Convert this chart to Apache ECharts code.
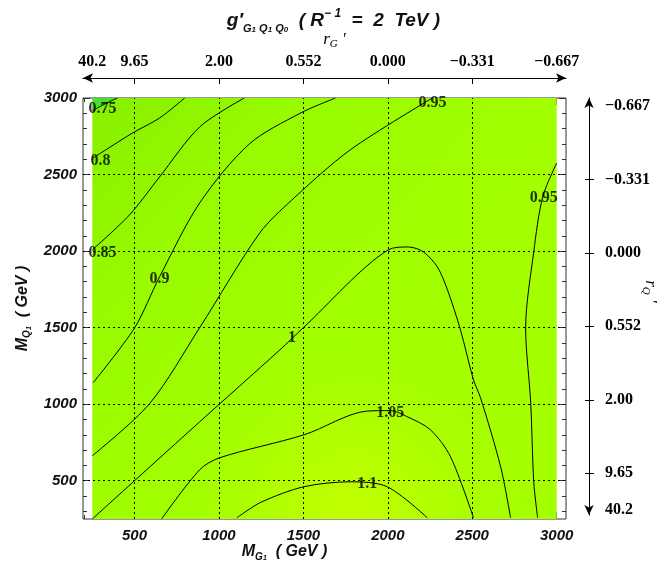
<!DOCTYPE html>
<html>
<head>
<meta charset="utf-8">
<script src="https://cdn.jsdelivr.net/npm/echarts@6.0.0/dist/echarts.min.js"></script>
<style>
  html, body { margin: 0; padding: 0; background: #ffffff; }
  #chart { width: 667px; height: 569px; }
</style>
</head>
<body>
<div id="chart"></div>
<script>
// Axis ticks and labels
const xMajor = [500, 1000, 1500, 2000, 2500, 3000];
const yMajor = [500, 1000, 1500, 2000, 2500, 3000];
const gridValues = [500, 1000, 1500, 2000, 2500];
const rTickPos = [250, 500, 1000, 1500, 2000, 2500, 3000];
const rTickLabels = ['40.2', '9.65', '2.00', '0.552', '0.000', '\u22120.331', '\u22120.667'];
const arrowTicks = [500, 1000, 1500, 2000, 2500];

// Extent of the computed field (M_G1, M_Q1 in GeV)
const fieldBounds = [[250, 3000, 3000, 250]];

// Contour lines of g'(G1 Q1 Q0), points as [M_G1, M_Q1]
const contour075 = [[250, 2915], [320, 2958], [400, 3000]];
const contour080 = [[250, 2605], [488, 2771], [648, 2869], [797, 3000]];
const contour085 = [[250, 2008], [470, 2236], [648, 2484], [886, 2811], [1150, 3000]];
const contour090 = [[255, 1140], [500, 1498], [648, 1831], [886, 2315], [1180, 2700], [1480, 2900], [1690, 3000]];
const contour095a = [[250, 663], [589, 1003], [886, 1500], [1242, 2119], [1432, 2334], [1777, 2661], [2264, 3000]];
const contour095b = [[2887, 258], [2864, 493], [2846, 1009], [2816, 1498], [2864, 1995], [2917, 2354], [3000, 2575]];
const contour100 = [[250, 250], [500, 500], [886, 885], [1361, 1355], [1498, 1498], [2002, 2008], [2121, 2027],
                    [2210, 1995], [2293, 1897], [2353, 1747], [2430, 1486], [2507, 1159], [2549, 1042], [2668, 591], [2727, 258]];
const contour105 = [[660, 250], [886, 572], [1004, 650], [1504, 800], [1878, 955], [2014, 958], [2115, 918],
                    [2252, 833], [2371, 657], [2507, 258]];
const contour110 = [[1106, 258], [1250, 360], [1504, 461], [1777, 493], [1996, 461], [2234, 258]];

const contours = [contour075, contour080, contour085, contour090, contour095a, contour095b, contour100, contour105, contour110];

// Contour level labels: [M_G1, M_Q1, level]
const contourLabels = [
  [310, 2928, '0.75'],
  [298, 2589, '0.8'],
  [310, 1988, '0.85'],
  [648, 1819, '0.9'],
  [2264, 2967, '0.95'],
  [2923, 2347, '0.95'],
  [1432, 1433, '1'],
  [2014, 944, '1.05'],
  [1878, 480, '1.1']
];

const minorX = [];
for (let v = 200; v <= 3000; v += 100) if (v % 500 !== 0) minorX.push(v);
const minorY = [];
for (let v = 300; v <= 3000; v += 100) if (v % 500 !== 0) minorY.push(v);

const X_MIN = 195, X_MAX = 3055, Y_MIN = 250, Y_MAX = 3000;
const FRAME = '#333333';
const sansBI = { fontFamily: 'Liberation Sans', fontWeight: 'bold', fontStyle: 'italic', color: '#111111' };
const serifB = { fontFamily: 'Liberation Serif', fontWeight: 'bold', color: '#000000' };
const plain = (v) => String(v);

function frameX(pos, values, len) {
  return {
    gridIndex: 0, type: 'value', min: X_MIN, max: X_MAX, position: pos,
    axisLine: { show: false }, splitLine: { show: false }, axisLabel: { show: false },
    axisTick: { show: true, inside: true, length: len, customValues: values, lineStyle: { color: FRAME } }
  };
}
function frameY(pos, values, len) {
  return {
    gridIndex: 0, type: 'value', min: Y_MIN, max: Y_MAX, position: pos,
    axisLine: { show: false }, splitLine: { show: false }, axisLabel: { show: false },
    axisTick: { show: true, inside: true, length: len, customValues: values, lineStyle: { color: FRAME } }
  };
}

const chart = echarts.init(document.getElementById('chart'), null, { renderer: 'canvas' });

const contourSeries = contours.map((pts) => ({
  type: 'line', xAxisIndex: 0, yAxisIndex: 0, data: pts, showSymbol: false, symbol: 'none',
  smooth: 0.3, silent: true, z: 5, clip: true,
  lineStyle: { color: '#000000', width: 1 }
}));

const option = {
  animation: false,
  backgroundColor: '#ffffff',
  title: {
    left: 'center', top: 3,
    text: '{b|g}{b|\u2032}{s|G}{ss|1}{s| Q}{ss|1}{s| Q}{ss|0}{b|  ( R}{sup|\u2212 1}{b|  =  2  TeV )}',
    textStyle: {
      rich: {
        b: Object.assign({ fontSize: 19, lineHeight: 26 }, sansBI),
        s: Object.assign({ fontSize: 11, lineHeight: 13, verticalAlign: 'bottom' }, sansBI),
        ss: Object.assign({ fontSize: 8, lineHeight: 10, verticalAlign: 'bottom' }, sansBI),
        sup: Object.assign({ fontSize: 12, lineHeight: 13, verticalAlign: 'top' }, sansBI)
      }
    }
  },
  grid: [
    { left: 83, right: 101, top: 98, bottom: 50, show: true, borderColor: FRAME, borderWidth: 1, backgroundColor: 'transparent' },
    { left: 589, right: 77, top: 98, bottom: 54, show: false }
  ],
  xAxis: [
    {
      gridIndex: 0, type: 'value', min: X_MIN, max: X_MAX, position: 'bottom',
      axisLine: { show: false }, splitLine: { show: false },
      axisTick: { show: true, inside: true, length: 7, customValues: xMajor, lineStyle: { color: FRAME } },
      axisLabel: Object.assign({ customValues: xMajor, fontSize: 15, margin: 9, formatter: plain }, sansBI),
      name: '{m|M}{s|G}{ss|1}{m|  ( GeV )}', nameLocation: 'middle', nameGap: 23, nameMoveOverlap: false,
      nameTextStyle: {
        padding: [0, 80, 0, 0],
        rich: {
          m: Object.assign({ fontSize: 16, lineHeight: 20 }, sansBI),
          s: Object.assign({ fontSize: 10, lineHeight: 11, verticalAlign: 'bottom' }, sansBI),
          ss: Object.assign({ fontSize: 7, lineHeight: 8, verticalAlign: 'bottom' }, sansBI)
        }
      }
    },
    frameX('bottom', minorX, 4),
    frameX('top', xMajor, 7),
    frameX('top', minorX, 4),
    {
      gridIndex: 0, type: 'value', min: X_MIN, max: X_MAX, position: 'top', offset: 20,
      axisLine: { show: true, symbol: ['arrow', 'arrow'], symbolSize: [7, 10], lineStyle: { color: '#000', width: 1 } },
      splitLine: { show: false },
      axisTick: { show: true, inside: true, length: 6, customValues: arrowTicks, lineStyle: { color: '#000' } },
      axisLabel: Object.assign({
        customValues: rTickPos, fontSize: 16, margin: 8,
        formatter: (v) => rTickLabels[rTickPos.indexOf(v)]
      }, serifB),
      name: '{r|r}{s|G}{r| \u2032}', nameLocation: 'middle', nameGap: 28, nameMoveOverlap: false,
      nameTextStyle: {
        padding: [0, 0, 0, 20],
        rich: {
          r: { fontFamily: 'Liberation Serif', fontStyle: 'italic', fontSize: 17, lineHeight: 20, color: '#000' },
          s: { fontFamily: 'Liberation Serif', fontStyle: 'italic', fontSize: 11, lineHeight: 12, verticalAlign: 'bottom', color: '#000' }
        }
      }
    },
    { gridIndex: 1, type: 'value', show: false, min: 0, max: 1 }
  ],
  yAxis: [
    {
      gridIndex: 0, type: 'value', min: Y_MIN, max: Y_MAX, position: 'left',
      axisLine: { show: false }, splitLine: { show: false },
      axisTick: { show: true, inside: true, length: 7, customValues: yMajor, lineStyle: { color: FRAME } },
      axisLabel: Object.assign({ customValues: yMajor, fontSize: 15, margin: 6, formatter: plain }, sansBI),
      name: '{m|M}{s|Q}{ss|1}{m|  ( GeV )}', nameLocation: 'middle', nameGap: 49,
      nameTextStyle: {
        rich: {
          m: Object.assign({ fontSize: 16, lineHeight: 20 }, sansBI),
          s: Object.assign({ fontSize: 10, lineHeight: 11, verticalAlign: 'bottom' }, sansBI),
          ss: Object.assign({ fontSize: 7, lineHeight: 8, verticalAlign: 'bottom' }, sansBI)
        }
      }
    },
    frameY('left', minorY, 4),
    frameY('right', yMajor, 7),
    frameY('right', minorY, 4),
    {
      gridIndex: 1, type: 'value', min: 216, max: 3054, position: 'right',
      axisLine: { show: true, symbol: ['arrow', 'arrow'], symbolSize: [7, 10], lineStyle: { color: '#000', width: 1 } },
      splitLine: { show: false },
      axisTick: { show: true, inside: false, length: 5, customValues: arrowTicks, lineStyle: { color: '#000' } },
      axisLabel: Object.assign({
        customValues: rTickPos, fontSize: 16, margin: 15,
        formatter: (v) => rTickLabels[rTickPos.indexOf(v)]
      }, serifB),
      name: '{r|r}{s|Q}{r| \u2032}', nameLocation: 'middle', nameGap: 50, nameRotate: -90, nameMoveOverlap: false,
      nameTextStyle: {
        padding: [0, 30, 0, 0],
        rich: {
          r: { fontFamily: 'Liberation Serif', fontStyle: 'italic', fontSize: 17, lineHeight: 20, color: '#000' },
          s: { fontFamily: 'Liberation Serif', fontStyle: 'italic', fontSize: 11, lineHeight: 12, verticalAlign: 'bottom', color: '#000' }
        }
      }
    },
    {
      gridIndex: 1, type: 'value', min: 216, max: 3054, position: 'right',
      axisLine: { show: false }, splitLine: { show: false }, axisLabel: { show: false },
      axisTick: { show: true, inside: true, length: 5, customValues: arrowTicks, lineStyle: { color: '#000' } }
    }
  ],
  series: [
    {
      // shaded field
      type: 'custom', xAxisIndex: 0, yAxisIndex: 0, data: fieldBounds, silent: true, z: 1,
      renderItem: (params, api) => {
        const a = api.coord([api.value(0), api.value(1)]);
        const b = api.coord([api.value(2), api.value(3)]);
        return {
          type: 'group',
          children: [
            {
              type: 'rect',
              shape: { x: a[0], y: a[1], width: b[0] - a[0], height: b[1] - a[1] },
              style: {
                fill: new echarts.graphic.LinearGradient(0, 0, 1, 1, [
                  { offset: 0, color: '#86f000' },
                  { offset: 0.25, color: '#98fb00' },
                  { offset: 0.55, color: '#a2ff00' },
                  { offset: 1, color: '#a6ff00' }
                ])
              }
            },
            {
              type: 'rect',
              shape: { x: a[0], y: a[1], width: b[0] - a[0], height: b[1] - a[1] },
              style: {
                fill: new echarts.graphic.RadialGradient(0.56, 1.0, 0.42, [
                  { offset: 0, color: 'rgba(196,255,0,1)' },
                  { offset: 0.5, color: 'rgba(184,255,0,0.6)' },
                  { offset: 1, color: 'rgba(170,255,0,0)' }
                ])
              }
            }
          ]
        };
      }
    },
    {
      // region below the 0.75 level in the upper-left corner
      type: 'custom', xAxisIndex: 0, yAxisIndex: 0, data: [0], silent: true, z: 2,
      renderItem: (params, api) => {
        const pts = contour075.map((p) => api.coord(p));
        pts.push(api.coord([250, 3000]));
        return { type: 'polygon', shape: { points: pts }, style: { fill: '#48e22c' } };
      }
    },
    {
      // dotted grid
      type: 'line', xAxisIndex: 0, yAxisIndex: 0, data: [], silent: true, z: 4,
      markLine: {
        silent: true, symbol: ['none', 'none'], label: { show: false },
        lineStyle: { color: '#000', width: 1, type: [2, 3] },
        data: gridValues.map((v) => ({ xAxis: v })).concat(gridValues.map((v) => ({ yAxis: v })))
      }
    }
  ].concat(contourSeries).concat([
    {
      type: 'scatter', xAxisIndex: 0, yAxisIndex: 0, data: contourLabels, symbolSize: 0, silent: true, z: 8,
      label: Object.assign({ show: true, position: 'inside', fontSize: 16, formatter: (p) => p.value[2] }, serifB)
    }
  ])
};

chart.setOption(option);
</script>
</body>
</html>
